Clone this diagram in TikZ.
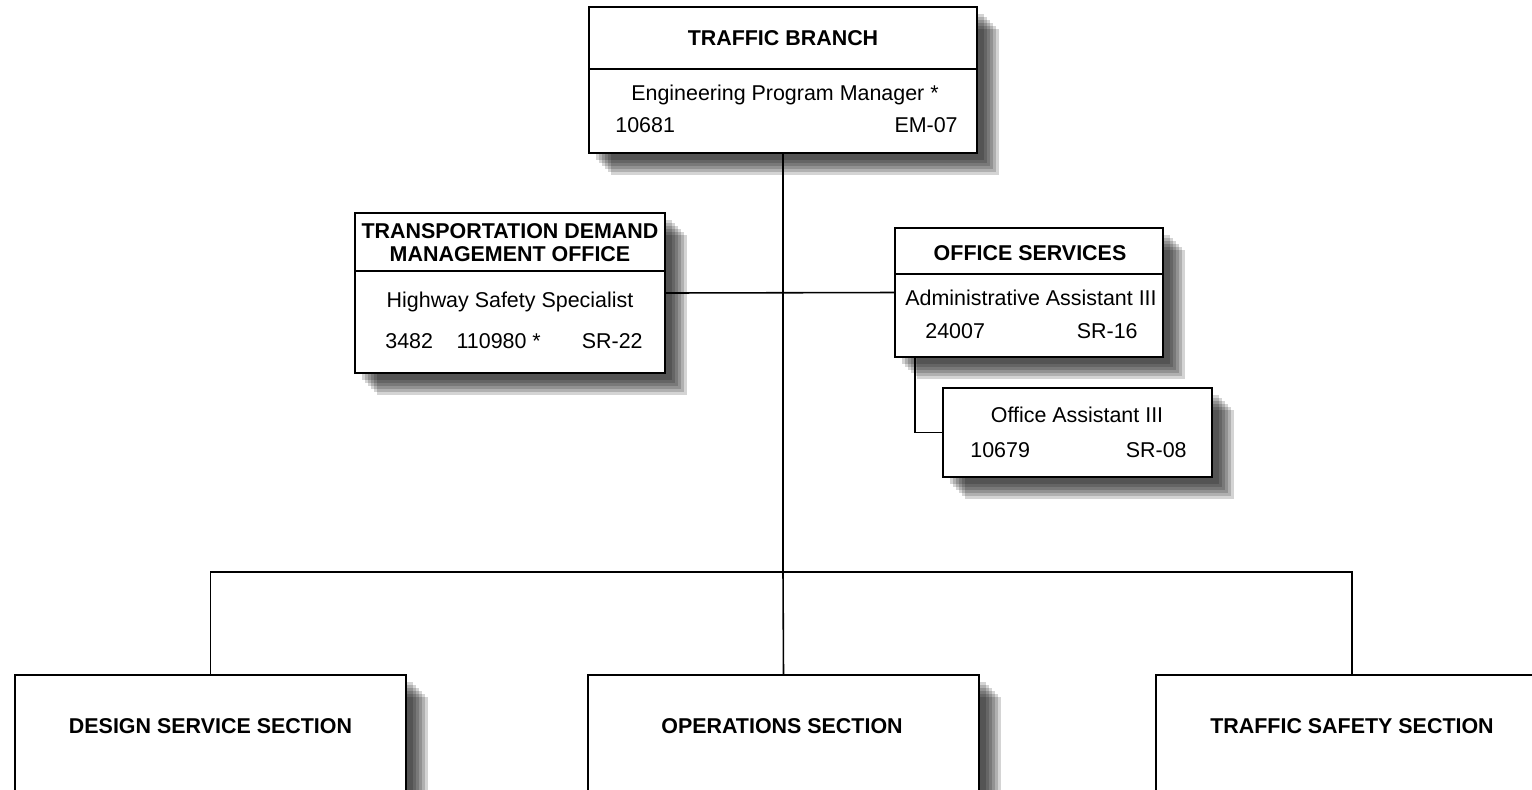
\documentclass[tikz,border=0pt]{standalone}
\usepackage{fontspec}
\setmainfont{Liberation Sans}
\usetikzlibrary{positioning,calc,shadows}
\begin{document}
\begin{tikzpicture}[
  x=0.02cm,y=-0.02cm,
  orgbox/.style={rectangle,draw,line width=1pt,fill=white,inner sep=0pt,
    general shadow={fill=black,opacity=.17,shadow xshift=.44cm,shadow yshift=-.44cm},
    general shadow={fill=black,opacity=.17,shadow xshift=.38cm,shadow yshift=-.38cm},
    general shadow={fill=black,opacity=.17,shadow xshift=.32cm,shadow yshift=-.32cm},
    general shadow={fill=black,opacity=.17,shadow xshift=.26cm,shadow yshift=-.26cm},
    general shadow={fill=black,opacity=.17,shadow xshift=.2cm,shadow yshift=-.2cm},
    general shadow={fill=black,opacity=.17,shadow xshift=.14cm,shadow yshift=-.14cm}},
  section/.style={orgbox,anchor=north,minimum height=2.8cm},
  head/.style={font=\fontsize{12.2}{13.2}\selectfont\bfseries,inner sep=0pt,align=center},
  job/.style={font=\fontsize{12.2}{14}\selectfont,inner sep=0pt},
  link/.style={line width=.9pt}]
\clip (0,0) rectangle (1532,789);
\node[orgbox,minimum width=7.76cm,minimum height=2.92cm] (branch) at (783,80) {};
\node[orgbox,minimum width=6.2cm,minimum height=3.2cm] (tdm) at (510,293) {};
\node[orgbox,minimum width=5.36cm,minimum height=2.58cm] (offsvc) at (1029,292.5) {};
\node[orgbox,minimum width=5.38cm,minimum height=1.78cm] (offasst) at (1077.5,432.5) {};
\node[section,minimum width=7.82cm] (design) at (210.5,674) {};
\node[section,minimum width=7.82cm] (ops) at (783.5,674) {};
\node[section,minimum width=7.84cm] (safety) at (1352,674) {};
\draw[link] ($(branch.north west)+(0,63)$) -- ($(branch.north east)+(0,63)$);
\draw[link] ($(tdm.north west)+(0,59)$) -- ($(tdm.north east)+(0,59)$);
\draw[link] ($(offsvc.north west)+(0,47)$) -- ($(offsvc.north east)+(0,47)$);
\node[head,anchor=base] (branchttl) at (783,45) {TRAFFIC BRANCH};
\node[job,anchor=base] (branchjob) at (785,100) {Engineering Program Manager *};
\node[job,anchor=base west] (branchpos) at (615,132) {10681};
\node[job,anchor=base east] (branchgrd) at (958,132) {EM-07};
\node[head,anchor=north] (tdmttl) at (510,223) {TRANSPORTATION DEMAND\\MANAGEMENT OFFICE};
\node[job,anchor=base] (tdmjob) at (510,307) {Highway Safety Specialist};
\node[job,anchor=base west] (tdmpos) at (385,348) {3482\hspace{1.1em}110980 *};
\node[job,anchor=base east] (tdmgrd) at (643,348) {SR-22};
\node[head,anchor=base] (offsvcttl) at (1030,260) {OFFICE SERVICES};
\node[job,anchor=base] (offsvcjob) at (1031,305) {Administrative Assistant III};
\node[job,anchor=base west] (offsvcpos) at (925,338) {24007};
\node[job,anchor=base east] (offsvcgrd) at (1138,338) {SR-16};
\node[job,anchor=base] (offasstjob) at (1077,422) {Office Assistant III};
\node[job,anchor=base west] (offasstpos) at (970,457) {10679};
\node[job,anchor=base east] (offasstgrd) at (1187,457) {SR-08};
\node[head,anchor=base] (designttl) at (210.5,733) {DESIGN SERVICE SECTION};
\node[head,anchor=base] (opsttl) at (782,733) {OPERATIONS SECTION};
\node[head,anchor=base] (safetyttl) at (1352,733) {TRAFFIC SAFETY SECTION};
\coordinate (bus) at (783,572);
\draw[link] (branch.south) -- (bus); \draw[link] (bus) -- (ops.north);
\draw[link] (design.north) |- (bus) -| (safety.north);
\draw[link] (tdm.east) -- (offsvc.west);
\draw[link] ($(offsvc.south west)+(21,0)$) |- (offasst.west);
\end{tikzpicture}
\end{document}
